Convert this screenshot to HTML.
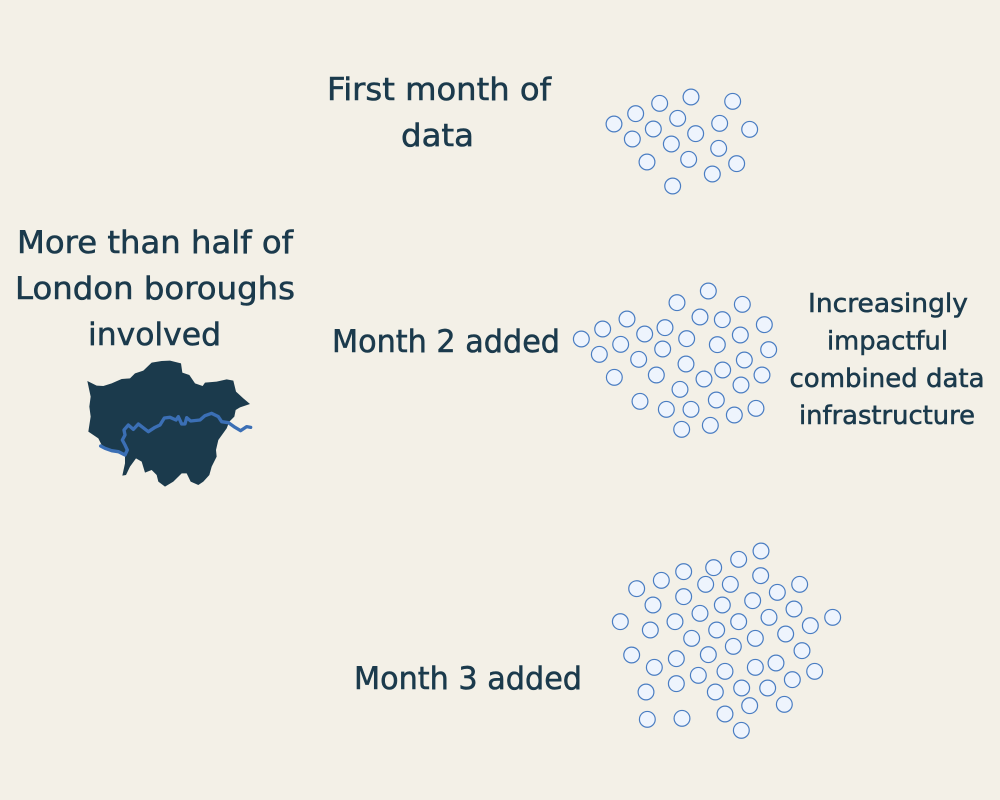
<!DOCTYPE html>
<html lang="en">
<head>
<meta charset="utf-8">
<title>London boroughs data infrastructure</title>
<style>
html,body{margin:0;padding:0;background:#f3f0e7;}
svg{display:block;}
text{font-family:"DejaVu Sans","Liberation Sans",sans-serif;fill:#1b3a4c;stroke:#1b3a4c;stroke-width:0.55px;}
.big{font-size:31px;}
.small{font-size:25.5px;}
</style>
</head>
<body>
<svg id="chart" width="1000" height="800" viewBox="0 0 1000 800" xmlns="http://www.w3.org/2000/svg">
  <rect x="0" y="0" width="1000" height="800" fill="#f3f0e7"/>

  <g>
    <text class="big" x="17" y="253" textLength="276" lengthAdjust="spacingAndGlyphs">More than half of</text>
    <text class="big" x="15" y="299" textLength="280" lengthAdjust="spacingAndGlyphs">London boroughs</text>
    <text class="big" x="88" y="345" textLength="133" lengthAdjust="spacingAndGlyphs">involved</text>
  </g>

  <g transform="translate(70,350) scale(0.33333)">
    <path fill="#1b3a4c" d="M52,93 L80,107 L100,108 L125,100 L155,87 L180,85 L195,70 L220,62 L245,38 L275,33 L300,32 L333,40 L337,68 L358,75 L375,100 L398,108 L405,98 L440,95 L470,88 L490,92 L498,125 L520,145 L540,162 L510,172 L497,180 L493,200 L478,215 L470,235 L445,270 L438,300 L440,320 L425,350 L418,375 L400,395 L385,405 L362,395 L350,370 L335,370 L310,395 L285,410 L265,395 L260,375 L245,360 L225,368 L215,335 L198,325 L180,350 L168,375 L157,377 L165,340 L165,315 L140,305 L110,295 L95,285 L85,265 L55,245 L62,200 L58,170 L62,140 Z"/>
    <path fill="none" stroke="#3b6fb5" stroke-width="10" stroke-linejoin="round" stroke-linecap="round" d="M92,288 L105,295 L125,302 L145,305 L165,315 L172,300 L165,285 L157,270 L165,255 L162,240 L175,225 L190,238 L205,222 L218,232 L235,245 L255,232 L270,225 L283,204 L300,202 L318,210 L325,200 L335,222 L345,222 L350,203 L362,213 L390,210 L405,197 L425,190 L445,200 L455,215 L475,218 L495,232 L512,242 L530,230 L542,232"/>
  </g>

  <g>
    <text class="big" x="327" y="100" textLength="224" lengthAdjust="spacingAndGlyphs">First month of</text>
    <text class="big" x="401" y="146" textLength="73" lengthAdjust="spacingAndGlyphs">data</text>
  </g>
  <text class="big" x="332" y="352" textLength="228" lengthAdjust="spacingAndGlyphs">Month 2 added</text>
  <text class="big" x="354" y="689" textLength="228" lengthAdjust="spacingAndGlyphs">Month 3 added</text>

  <g>
    <text class="small" x="808" y="312" textLength="160" lengthAdjust="spacingAndGlyphs">Increasingly</text>
    <text class="small" x="827" y="349.5" textLength="121" lengthAdjust="spacingAndGlyphs">impactful</text>
    <text class="small" x="789.5" y="387" textLength="195" lengthAdjust="spacingAndGlyphs">combined data</text>
    <text class="small" x="799" y="424" textLength="176" lengthAdjust="spacingAndGlyphs">infrastructure</text>
  </g>

  <g id="clusters"></g>
</svg>
<script>
const month1X = [72,137,209,303,428,127,190,263,389,479,244,317,171,296,386,440,367,248];
const month1Y = [132,101,70,51,64,177,147,115,130,148,192,161,246,238,205,251,282,318];
const month2X = [34,98,171,321,415,517,88,152,224,285,350,390,457,583,511,442,278,206,133,259,348,402,458,523,596,576,513,330,210,289,363,439,493,558,335,421];
const month2Y = [192,162,132,83,48,88,238,208,177,158,191,126,134,149,180,209,222,253,307,300,267,312,285,255,224,300,330,343,379,403,403,375,420,400,463,451];
const month3X = [46,95,169,236,326,401,468,144,136,210,236,302,376,467,584,517,443,352,285,335,401,492,567,683,616,542,451,385,260,80,214,310,591,513,451,360,148,280,214,123,331,410,488,562,629,538,434,360,127,231,409];
const month3Y = [260,161,136,110,98,73,48,210,285,260,185,148,148,122,148,172,197,210,235,285,260,247,222,247,272,297,310,334,310,360,371,359,347,384,397,409,397,421,446,471,471,459,459,434,409,508,512,537,553,550,586];

const svgNS = 'http://www.w3.org/2000/svg';
const unitsPerPixel = 3;
function xAxis(value, originX) { return originX + value / unitsPerPixel; }
function yAxis(value, originY) { return originY + value / unitsPerPixel; }

function drawCluster(parent, name, xs, ys, originX, originY) {
  const group = document.createElementNS(svgNS, 'g');
  
  
  xs.forEach(function (value, i) {
    const point = document.createElementNS(svgNS, 'circle');
    
    
    point.setAttribute('cx', xAxis(value, originX));
    point.setAttribute('cy', yAxis(ys[i], originY));
    point.setAttribute('r', 7.9);
    point.setAttribute('fill', '#eef4fd');
    point.setAttribute('stroke', '#4a7dc2');
    point.setAttribute('stroke-width', 1.2);
    group.appendChild(point);
  });
  parent.appendChild(group);
}

const clusters = document.getElementById('clusters');
drawCluster(clusters, 'month-1-cluster', month1X, month1Y, 590, 80);
drawCluster(clusters, 'month-2-cluster', month2X, month2Y, 570, 275);
drawCluster(clusters, 'month-3-cluster', month3X, month3Y, 605, 535);
</script>
</body>
</html>
